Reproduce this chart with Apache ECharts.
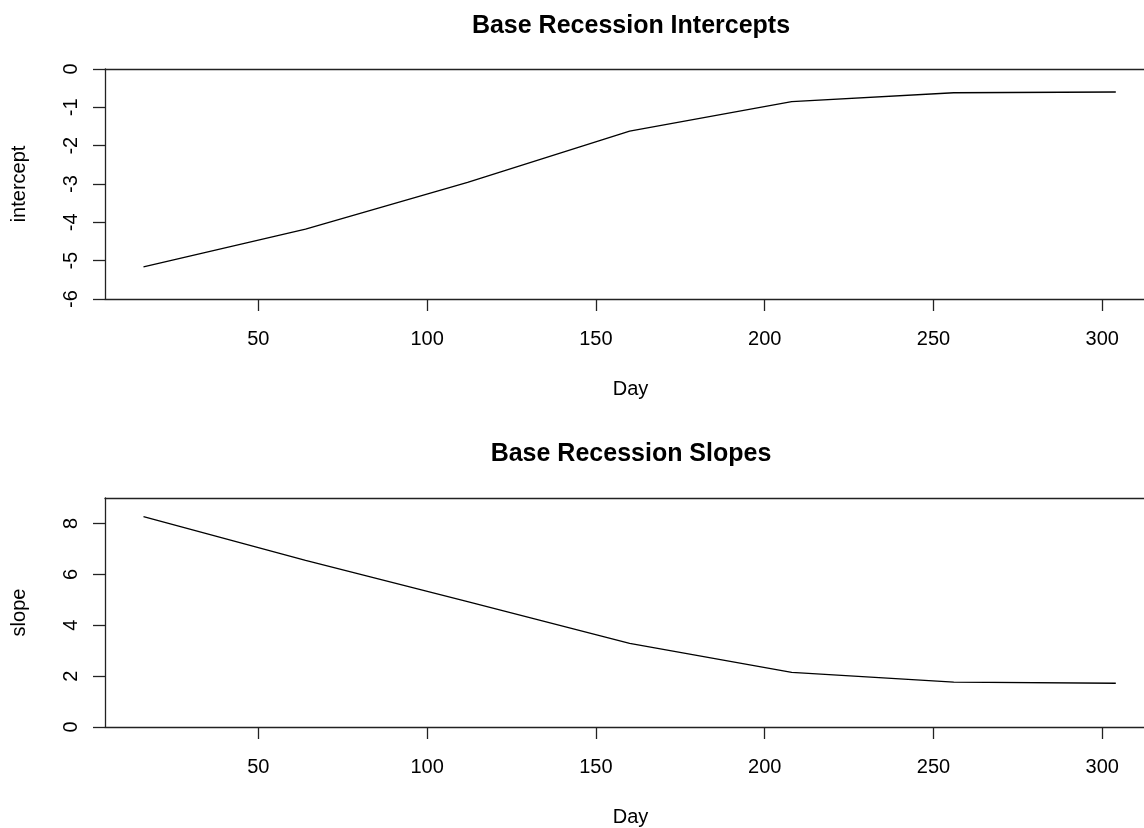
<!DOCTYPE html>
<html>
<head>
<meta charset="utf-8">
<script src="https://cdn.jsdelivr.net/npm/echarts@6/dist/echarts.min.js"></script>
<style>
html,body{margin:0;padding:0;background:#fff;}
#c{width:1144px;height:828px;}
</style>
</head>
<body>
<div id="c"></div>
<script>
const days = [16, 64, 112, 160, 208, 256, 304];
const intercepts = [-5.16, -4.18, -2.96, -1.62, -0.85, -0.62, -0.60];
const slopes = [8.27, 6.55, 4.93, 3.29, 2.15, 1.76, 1.72];
const xTicks = [50, 100, 150, 200, 250, 300];
const interceptTicks = [-6, -5, -4, -3, -2, -1, 0];
const slopeTicks = [0, 2, 4, 6, 8];
const titles = ['Base Recession Intercepts', 'Base Recession Slopes'];
const yNames = ['intercept', 'slope'];
const xName = 'Day';
// visible x range of the (right-cropped) plot frame
const xMin = 4.6;
const xMax = 312.35;

const FONT = 'Liberation Sans, Arial, Helvetica, sans-serif';
const LINE = '#222';

const chart = echarts.init(document.getElementById('c'), null, {renderer: 'canvas'});

function xAxisDef(gridIndex) {
  return {
    type: 'value', gridIndex, min: xMin, max: xMax, position: 'bottom',
    name: xName, nameLocation: 'middle', nameGap: 80,
    nameTextStyle: {fontFamily: FONT, fontSize: 20, color: '#000', padding: [0, 0, 0, 12]},
    axisLine: {show: true, onZero: false, lineStyle: {color: LINE, width: 1.3}},
    axisTick: {show: true, inside: false, length: 12, customValues: xTicks, lineStyle: {color: LINE, width: 1.3}},
    axisLabel: {show: true, margin: 30, customValues: xTicks, fontFamily: FONT, fontSize: 20, color: '#000'},
    splitLine: {show: false}
  };
}
function xTopDef(gridIndex) {
  return {
    type: 'value', gridIndex, min: xMin, max: xMax, position: 'top',
    axisLine: {show: true, onZero: false, lineStyle: {color: LINE, width: 1.3}},
    axisTick: {show: false}, axisLabel: {show: false}, splitLine: {show: false}
  };
}
function yAxisDef(gridIndex, min, max, ticks, name) {
  return {
    type: 'value', gridIndex, min, max, position: 'left',
    name, nameLocation: 'middle', nameGap: 76, nameRotate: 90,
    nameTextStyle: {fontFamily: FONT, fontSize: 20, color: '#000'},
    axisLine: {show: true, onZero: false, lineStyle: {color: LINE, width: 1.3}},
    axisTick: {show: true, inside: false, length: 12, customValues: ticks, lineStyle: {color: LINE, width: 1.3}},
    axisLabel: {show: true, rotate: 90, margin: 24, customValues: ticks, fontFamily: FONT, fontSize: 20, color: '#000'},
    splitLine: {show: false}
  };
}

const option = {
  animation: false,
  backgroundColor: '#fff',
  title: [
    {text: titles[0], left: 626, top: 9, textAlign: 'center',
     textStyle: {fontFamily: FONT, fontSize: 25, fontWeight: 'bold', color: '#000'}},
    {text: titles[1], left: 626, top: 437, textAlign: 'center',
     textStyle: {fontFamily: FONT, fontSize: 25, fontWeight: 'bold', color: '#000'}}
  ],
  grid: [
    {left: 105, top: 69, right: 0, height: 230, show: false},
    {left: 105, top: 498, right: 0, height: 230, show: false}
  ],
  xAxis: [xAxisDef(0), xAxisDef(1), xTopDef(0), xTopDef(1)],
  yAxis: [
    yAxisDef(0, -6, 0, interceptTicks, yNames[0]),
    yAxisDef(1, 0, 9, slopeTicks, yNames[1])
  ],
  series: [
    {type: 'line', xAxisIndex: 0, yAxisIndex: 0, data: days.map((d, i) => [d, intercepts[i]]),
     showSymbol: false, lineStyle: {color: '#000', width: 1.3}},
    {type: 'line', xAxisIndex: 1, yAxisIndex: 1, data: days.map((d, i) => [d, slopes[i]]),
     showSymbol: false, lineStyle: {color: '#000', width: 1.3}}
  ]
};
chart.setOption(option);
</script>
</body>
</html>
